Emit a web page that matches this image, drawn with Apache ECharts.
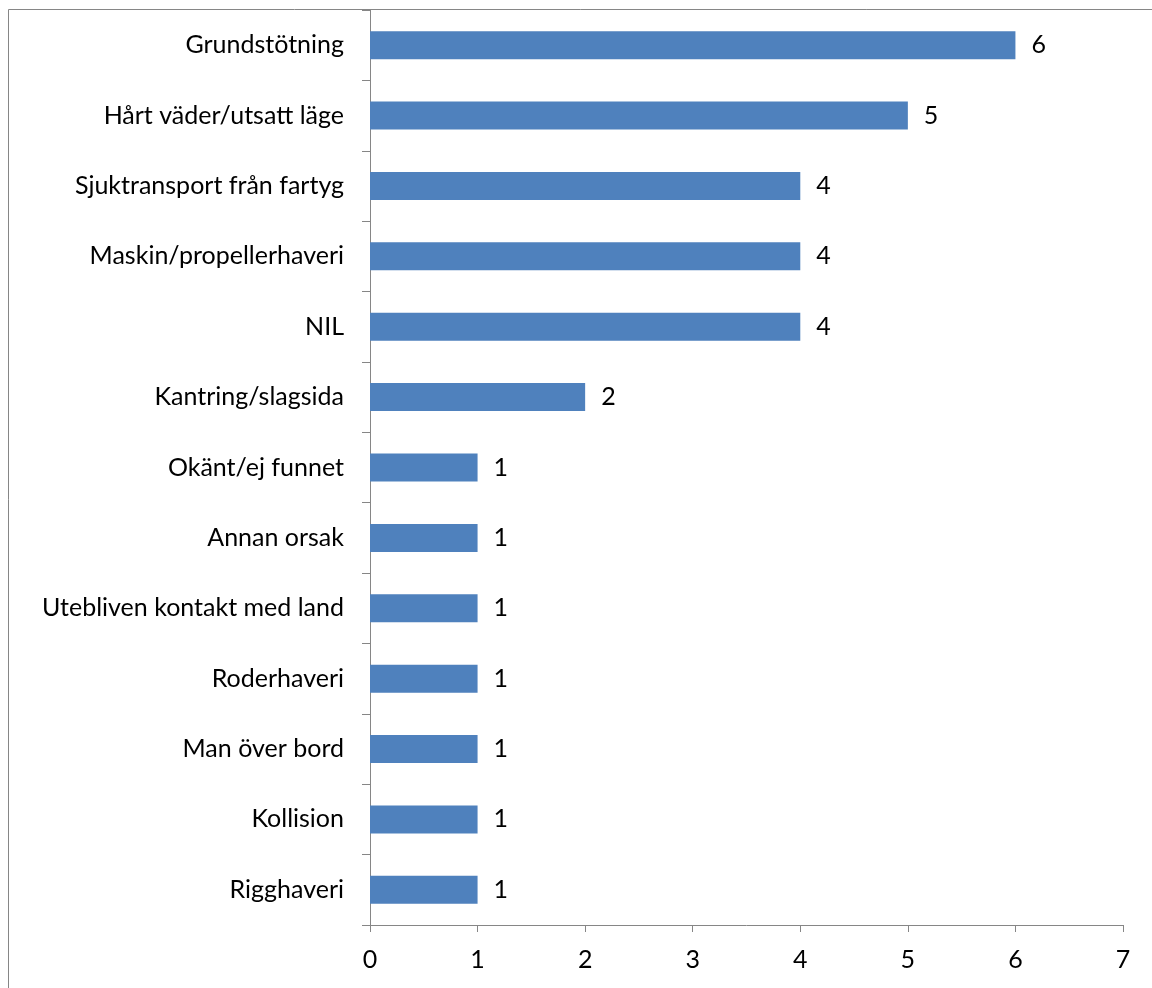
<!DOCTYPE html>
<html><head><meta charset="utf-8">
<script src="https://cdn.jsdelivr.net/npm/echarts@6/dist/echarts.min.js"></script>
<style>html,body{margin:0;padding:0;background:#fff}#c{width:1152px;height:988px}</style>
</head><body><div id="c"></div>
<script>
const categories = ["Grundstötning","Hårt väder/utsatt läge","Sjuktransport från fartyg","Maskin/propellerhaveri","NIL","Kantring/slagsida","Okänt/ej funnet","Annan orsak","Utebliven kontakt med land","Roderhaveri","Man över bord","Kollision","Rigghaveri"];
const values = [6,5,4,4,4,2,1,1,1,1,1,1,1];
const xTicks = [0,1,2,3,4,5,6,7];

const chart = echarts.init(document.getElementById('c'));
const font = 'Lato, "Open Sans", sans-serif';
chart.setOption({
  animation:false,
  graphic:[{type:'rect',shape:{x:8.5,y:9.5,width:1300,height:1300},style:{fill:null,stroke:'#868686',lineWidth:1},silent:true}],
  grid:{left:370,top:10,right:29,bottom:63},
  xAxis:{type:'value',min:xTicks[0],max:xTicks[xTicks.length-1],interval:1,
    axisLine:{show:true,lineStyle:{color:'#868686',width:1}},
    axisTick:{show:true,length:7,lineStyle:{color:'#868686'}},
    splitLine:{show:false},
    axisLabel:{color:'#000',fontSize:25,fontFamily:font,margin:22}},
  yAxis:{type:'category',data:categories.slice().reverse(),inverse:false,
    axisLine:{show:true,lineStyle:{color:'#868686',width:1}},
    axisTick:{show:true,length:8,lineStyle:{color:'#868686'}},
    axisLabel:{color:'#000',fontSize:25,fontFamily:font,margin:26}},
  series:[{type:'bar',data:values.slice().reverse(),barWidth:28,
    itemStyle:{color:'#4F81BD'},
    label:{show:true,position:'right',distance:16,color:'#000',fontSize:25,fontFamily:font}}]
});
</script></body></html>
